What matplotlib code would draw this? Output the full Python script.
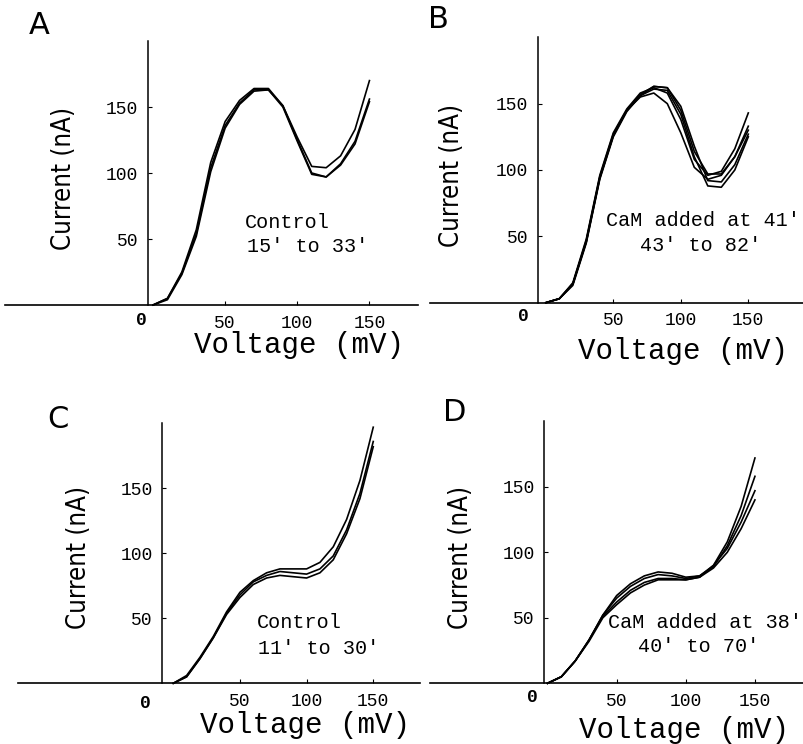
import matplotlib
matplotlib.use('Agg')
import matplotlib.pyplot as plt

# voltage steps (mV) shared by all panels
voltage = [0, 10, 20, 30, 40, 50, 60, 70, 80, 90, 100, 110, 120, 130, 140, 150]

# A: control, 15' to 33'
a_curves = [
    [0, 5, 24, 54, 104, 136, 153, 163, 163, 151, 125, 100, 97, 107, 124, 156],
    [0, 5, 25, 57, 108, 139, 155, 164, 164, 151, 127, 105, 104, 113, 133, 170],
    [0, 4, 23, 52, 101, 134, 152, 162, 163, 150, 124, 99, 97, 106, 122, 154],
]
# B: CaM added at 41', 43' to 82'
b_curves = [
    [0, 3, 14, 47, 95, 127, 145, 155, 158, 150, 128, 102, 93, 96, 110, 133],
    [0, 3, 15, 48, 96, 128, 146, 158, 162, 158, 138, 108, 96, 99, 116, 143],
    [0, 3, 14, 46, 94, 126, 145, 157, 163, 162, 145, 114, 97, 97, 110, 130],
    [0, 3, 13, 45, 93, 125, 144, 156, 163, 162, 148, 118, 92, 91, 104, 127],
    [0, 3, 14, 46, 94, 126, 145, 156, 161, 160, 142, 110, 88, 87, 100, 125],
]
# C: control, 11' to 30'
c_curves = [
    [0, 6, 20, 36, 55, 70, 79, 85, 88, 88, 88, 93, 105, 126, 156, 197],
    [0, 5, 19, 35, 54, 68, 78, 83, 86, 85, 84, 88, 98, 118, 146, 186],
    [0, 5, 19, 35, 53, 66, 76, 81, 83, 82, 81, 85, 95, 115, 142, 182],
]
# D: CaM added at 38', 40' to 70'
d_curves = [
    [0, 5, 17, 33, 52, 67, 76, 82, 85, 84, 81, 82, 90, 108, 135, 172],
    [0, 5, 17, 33, 52, 65, 74, 80, 83, 82, 80, 82, 89, 105, 128, 158],
    [0, 5, 17, 33, 51, 62, 71, 77, 80, 80, 79, 81, 90, 103, 123, 147],
    [0, 5, 17, 32, 50, 60, 69, 75, 79, 79, 79, 81, 88, 100, 118, 140],
]

letters = ['A', 'B', 'C', 'D']
notes = [("Control", "15\u2032 to 33\u2032"),
         ("CaM added at 41\u2032", "43\u2032 to 82\u2032"),
         ("Control", "11\u2032 to 30\u2032"),
         ("CaM added at 38\u2032", "40\u2032 to 70\u2032")]
xticks = [50, 100, 150]
yticks = [50, 100, 150]

W, H = 804, 744
MONO = ['Liberation Mono', 'DejaVu Sans Mono']

# pixel layout of each panel (x of 0 mV, px/mV, y of 0 nA, px/nA, spine x, axis left/right)
layout = [
    dict(x0=153, sx=1.443, y0=305, sy=1.32, spine=148, xl=5, xr=418,
         letter=(39, 25), xlab=(299, 345), ylab=(64, 178), zero=(141.7, 320),
         note1=(245, 222), note2=(247, 247)),
    dict(x0=545.8, sx=1.35, y0=302.7, sy=1.327, spine=538, xl=430, xr=804,
         letter=(438, 20), xlab=(683, 351), ylab=(452, 175), zero=(523, 317),
         note1=(606, 221), note2=(640, 246)),
    dict(x0=173.3, sx=1.333, y0=683.3, sy=1.3, spine=162.3, xl=18, xr=420,
         letter=(58, 419), xlab=(305, 725), ylab=(79, 557), zero=(145.7, 703),
         note1=(257, 622), note2=(258, 648)),
    dict(x0=547.5, sx=1.383, y0=683.3, sy=1.31, spine=544.3, xl=430, xr=804,
         letter=(455, 413), xlab=(684, 730), ylab=(461, 557), zero=(532, 698),
         note1=(608, 622), note2=(638, 647)),
]


def fx(px):
    return px / W


def fy(py):
    return 1 - py / H


def main():
    fig = plt.figure(figsize=(W / 100, H / 100), dpi=100)
    fig.patch.set_facecolor('white')
    all_curves = [a_curves, b_curves, c_curves, d_curves]

    for i, lay in enumerate(layout):
        ybot = -5
        ytop = 201
        bottom_px = lay['y0'] - ybot * lay['sy']
        top_px = lay['y0'] - ytop * lay['sy']
        ax = fig.add_axes([fx(lay['xl']), fy(bottom_px),
                           (lay['xr'] - lay['xl']) / W, (bottom_px - top_px) / H])
        ax.set_xlim((lay['xl'] - lay['x0']) / lay['sx'], (lay['xr'] - lay['x0']) / lay['sx'])
        ax.set_ylim(ybot, ytop)
        ax.patch.set_alpha(0)

        for curve in all_curves[i]:
            ax.plot(voltage, curve, '-', color='black', lw=1.2, clip_on=False)

        spine_mv = (lay['spine'] - lay['x0']) / lay['sx']
        ax.spines['top'].set_visible(False)
        ax.spines['right'].set_visible(False)
        ax.spines['left'].set_position(('data', spine_mv))
        ax.spines['left'].set_bounds(0, 200)
        ax.spines['bottom'].set_position(('data', 0))
        ax.spines['left'].set_linewidth(1.1)
        ax.spines['bottom'].set_linewidth(1.2)

        ax.set_xticks(xticks)
        ax.set_xticklabels([str(t) for t in xticks])
        ax.set_yticks(yticks)
        ax.set_yticklabels([str(t) for t in yticks])
        ax.tick_params(direction='in', length=3, width=0.8, pad=7)
        for lab in ax.get_xticklabels() + ax.get_yticklabels():
            lab.set_family(MONO)
            lab.set_fontsize(13)

        fig.text(fx(lay['zero'][0]), fy(lay['zero'][1]), '0', family=MONO,
                 fontsize=13, fontweight='bold', ha='center', va='center')
        fig.text(fx(lay['letter'][0]), fy(lay['letter'][1]), letters[i],
                 fontsize=22, ha='center', va='center', family='DejaVu Sans')
        fig.text(fx(lay['xlab'][0]), fy(lay['xlab'][1]), 'Voltage (mV)', family=MONO,
                 fontsize=21, ha='center', va='center')
        fig.text(fx(lay['ylab'][0]), fy(lay['ylab'][1]), 'Current (nA)',
                 family='DejaVu Sans', stretch='condensed', fontweight='light',
                 fontsize=18.5, ha='center', va='center', rotation=90)
        fig.text(fx(lay['note1'][0]), fy(lay['note1'][1]), notes[i][0], family=MONO,
                 fontsize=14.5, ha='left', va='center')
        fig.text(fx(lay['note2'][0]), fy(lay['note2'][1]), notes[i][1], family=MONO,
                 fontsize=14.5, ha='left', va='center')

    plt.savefig('out.png', dpi=100, facecolor='w')


if __name__ == '__main__':
    main()
